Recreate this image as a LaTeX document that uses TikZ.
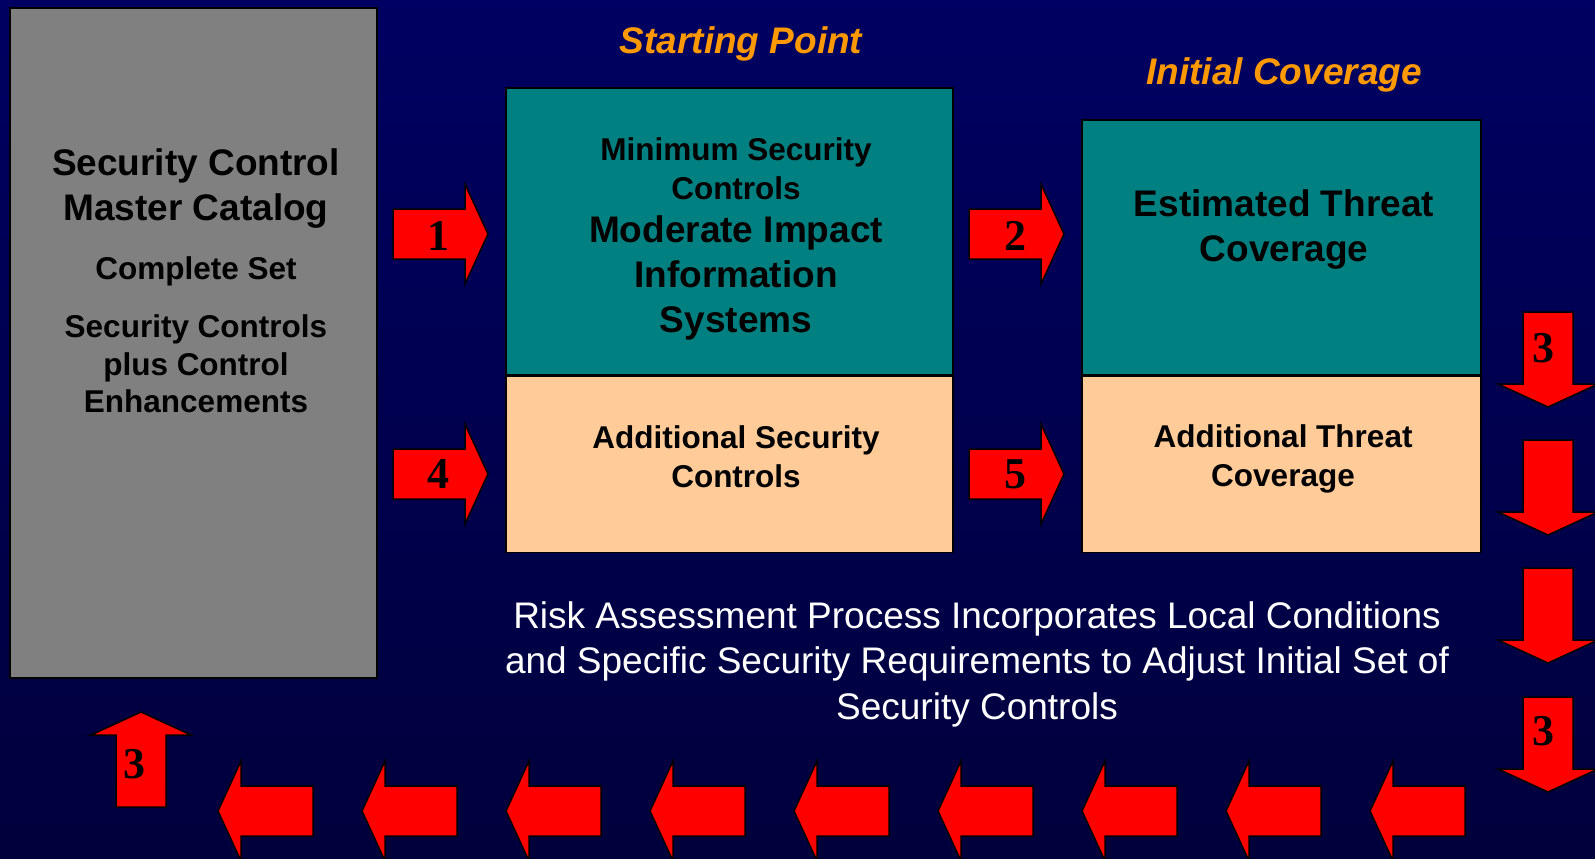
\documentclass[tikz,border=0pt]{standalone}
\usepackage{fontspec}
\setmainfont{Liberation Sans}
\newfontfamily\numfont{Liberation Serif}
\usepackage{tikz}
\usetikzlibrary{positioning}
\usepackage{xcolor}
\definecolor{slidetop}{HTML}{000062}
\definecolor{slidebottom}{HTML}{00003C}
\definecolor{catgray}{HTML}{808080}
\definecolor{ctlteal}{HTML}{008080}
\definecolor{ctlpeach}{HTML}{FFCC99}
\definecolor{titleorange}{HTML}{FF9900}

\begin{document}
\begin{tikzpicture}[
  x=1pt, y=-1pt,
  panel/.style={draw=black, line width=1.5pt, inner sep=0pt},
  bigtxt/.style={font=\fontsize{37}{45}\selectfont\bfseries, align=center,
    inner sep=0pt},
  smalltxt/.style={font=\fontsize{31.5}{39}\selectfont\bfseries, align=center,
    inner sep=0pt},
  numtxt/.style={font=\numfont\fontsize{44}{44}\selectfont\bfseries,
    inner sep=0pt},
  titletxt/.style={font=\fontsize{37}{45}\selectfont\bfseries\itshape,
    text=titleorange, inner sep=0pt},
  blockarrow/.pic={
    \filldraw[fill=red, draw=black, line width=1.5pt, line join=miter]
      (0,-25) -- (72,-25) -- (72,-50) -- (95,0) -- (72,50) -- (72,25)
      -- (0,25) -- cycle;
  }
]
  \useasboundingbox (0,0) rectangle (1595,859);
  \shade[top color=slidetop, bottom color=slidebottom] (0,0) rectangle (1595,859);

  % Catalog and control sets
  \node[panel, fill=catgray, minimum width=367pt, minimum height=670pt]
    (catalog) at (193.5,343) {};
  \node[panel, fill=ctlteal, minimum width=447pt, minimum height=287pt]
    (baseline) at (729.5,231.5) {};
  \node[panel, fill=ctlpeach, minimum width=447pt, minimum height=176pt,
    below=0pt of baseline] (addctl) {};
  \node[panel, fill=ctlteal, minimum width=399pt, minimum height=255pt]
    (threat) at (1281.5,247.5) {};
  \node[panel, fill=ctlpeach, minimum width=399pt, minimum height=176pt,
    below=0pt of threat] (addthreat) {};

  % Box texts
  \node[bigtxt] (cattitle) at (196,189) {Security Control\\Master Catalog};
  \node[smalltxt] (catset) at (196,271) {Complete Set};
  \node[smalltxt, font=\fontsize{31.5}{37.5}\selectfont\bfseries] (catenh)
    at (196,364) {Security Controls\\plus Control\\Enhancements};
  \node[smalltxt] (minctl) at (736,169) {Minimum Security\\Controls};
  \node[bigtxt] (modimp) at (736,278) {Moderate Impact\\Information\\Systems};
  \node[bigtxt] (estthreat) at (1284,229.5) {Estimated Threat\\Coverage};
  \node[smalltxt] (addctltxt) at (736,457) {Additional Security\\Controls};
  \node[smalltxt] (addthrtxt) at (1283,459) {Additional Threat\\Coverage};

  % Titles
  \node[titletxt] (start) at (741,44) {Starting Point};
  \node[titletxt] (initial) at (1284,75) {Initial Coverage};

  % Process note
  \node[font=\fontsize{37}{45.5}\selectfont, text=white, align=center,
    inner sep=0pt] (risk) at (977,664)
    {Risk Assessment Process Incorporates Local Conditions\\
     and Specific Security Requirements to Adjust Initial Set of\\
     Security Controls};

  % Block arrows
  \foreach \x/\y in {393/234, 393/474, 969/234, 969/474}
    \pic at (\x,\y) {blockarrow};
  \foreach \y in {312,440,568,697}
    \pic[rotate=-90] at (1548,\y) {blockarrow};
  \foreach \i in {0,...,8}
    \pic[rotate=180] at (313+144*\i,811) {blockarrow};
  \pic[rotate=90] at (141,807) {blockarrow};

  % Step numbers
  \node[numtxt] (n1) at (438,236) {1};
  \node[numtxt] (n4) at (438,474) {4};
  \node[numtxt] (n2) at (1015,236) {2};
  \node[numtxt] (n5) at (1015,474) {5};
  \node[numtxt] (n3a) at (1543,348) {3};
  \node[numtxt] (n3b) at (1543,731) {3};
  \node[numtxt] (n3c) at (134,764) {3};
\end{tikzpicture}
\end{document}
